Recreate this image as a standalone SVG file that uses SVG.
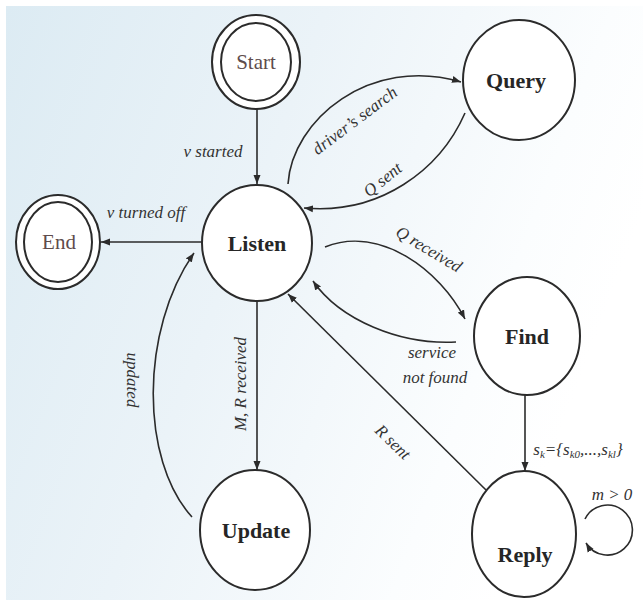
<svg xmlns="http://www.w3.org/2000/svg" width="643" height="600" viewBox="0 0 643 600">
<defs>
<linearGradient id="bg" x1="0" y1="0" x2="1" y2="0.35">
<stop offset="0" stop-color="#dcebf3"/>
<stop offset="0.45" stop-color="#ebf3f8"/>
<stop offset="0.85" stop-color="#fbfdfe"/>
<stop offset="1" stop-color="#ffffff"/>
</linearGradient>
<marker id="arr" markerUnits="userSpaceOnUse" markerWidth="10" markerHeight="8" refX="9" refY="4" orient="auto">
<path d="M0,0.5 L9,4 L0,7.5 Z" fill="#2b2b2b"/>
</marker>
<style>
.node{fill:#ffffff;stroke:#2b2b2b;stroke-width:2}
.edge{fill:none;stroke:#2b2b2b;stroke-width:1.6;marker-end:url(#arr)}
.nl{font-family:"Liberation Serif",serif;font-weight:bold;font-size:22px;fill:#262626;text-anchor:middle}
.tl{font-family:"Liberation Serif",serif;font-size:21px;fill:#5e4c4c;text-anchor:middle}
.el{font-family:"Liberation Serif",serif;font-style:italic;font-size:17px;fill:#333333;text-anchor:middle}
</style>
</defs>
<rect x="0" y="0" width="643" height="600" fill="#ffffff"/>
<rect x="6" y="6" width="637" height="594" fill="url(#bg)"/>

<g id="connectors">
<line class="edge" x1="257" y1="109" x2="257" y2="184"/>
<line class="edge" x1="202" y1="242" x2="101" y2="242"/>
<path class="edge" d="M288,184 C292,120 370,55 461,82"/>
<path class="edge" d="M465,113 C440,170 380,215 304,208"/>
<path class="edge" d="M325,247 C380,225 440,270 465,319"/>
<path class="edge" d="M456,342 C400,345 340,320 313,281"/>
<line class="edge" x1="525" y1="395" x2="525" y2="471"/>
<line class="edge" x1="486" y1="490" x2="288" y2="294"/>
<line class="edge" x1="257" y1="301" x2="257" y2="470"/>
<path class="edge" d="M192,517 C140,460 140,330 194,253"/>
<path class="edge" d="M585,519 A25,25 0 1 1 586,543"/>
</g>

<g id="edge-labels">
<text class="el" x="213" y="157">v started</text>
<text class="el" x="146" y="218">v turned off</text>
<text class="el" transform="translate(358,125) rotate(-37)">driver’s search</text>
<text class="el" transform="translate(386,184) rotate(-39)">Q sent</text>
<text class="el" transform="translate(426,254) rotate(31)">Q received</text>
<text class="el" x="432" y="358">service</text>
<text class="el" x="435" y="383">not found</text>
<text class="el" transform="translate(389,446) rotate(44)">R sent</text>
<text class="el" transform="translate(246,384) rotate(-90)">M, R received</text>
<text class="el" transform="translate(127,380) rotate(90)">updated</text>
<text class="el" x="578" y="455">s<tspan font-size="11" dy="3">k</tspan><tspan dy="-3">={s</tspan><tspan font-size="11" dy="3">k0</tspan><tspan dy="-3">,...,s</tspan><tspan font-size="11" dy="3">kl</tspan><tspan dy="-3">}</tspan></text>
<text class="el" x="612" y="500">m &gt; 0</text>
</g>

<g id="node-start">
<ellipse class="node" cx="256" cy="62" rx="44" ry="47"/>
<ellipse class="node" cx="256" cy="62" rx="35" ry="39"/>
<text class="tl" x="256" y="69">Start</text>
</g>
<g id="node-query">
<ellipse class="node" cx="519" cy="80" rx="56" ry="60"/>
<text class="nl" x="516" y="88">Query</text>
</g>
<g id="node-end">
<ellipse class="node" cx="58" cy="242" rx="42" ry="47"/>
<ellipse class="node" cx="58" cy="242" rx="34" ry="40"/>
<text class="tl" x="59" y="249">End</text>
</g>
<g id="node-listen">
<ellipse class="node" cx="257" cy="243" rx="55" ry="58"/>
<text class="nl" x="257" y="251">Listen</text>
</g>
<g id="node-find">
<ellipse class="node" cx="527" cy="336" rx="53" ry="59"/>
<text class="nl" x="527" y="344">Find</text>
</g>
<g id="node-update">
<ellipse class="node" cx="255" cy="530" rx="55" ry="60"/>
<text class="nl" x="256" y="538">Update</text>
</g>
<g id="node-reply">
<ellipse class="node" cx="524" cy="534" rx="52" ry="63"/>
<text class="nl" x="525" y="562">Reply</text>
</g>
</svg>
